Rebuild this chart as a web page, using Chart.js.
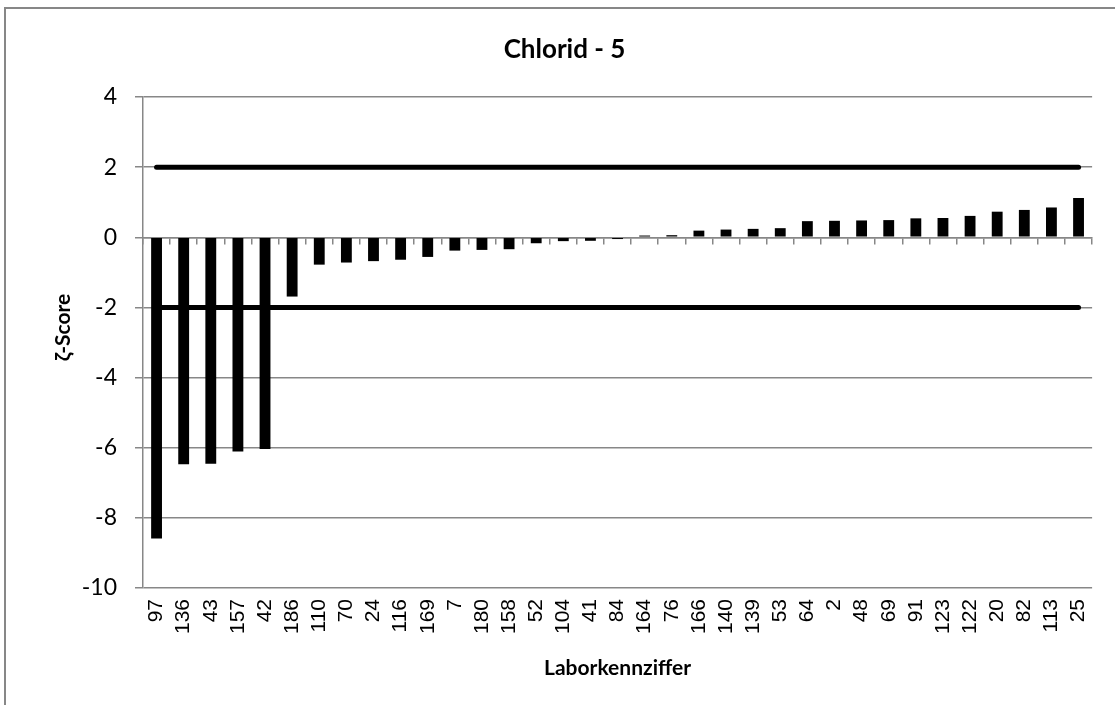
<!DOCTYPE html>
<html>
<head>
<meta charset="utf-8">
<script src="https://cdn.jsdelivr.net/npm/chart.js@4.4.1/dist/chart.umd.min.js"></script>
<style>
    html, body { margin: 0; padding: 0; background: #fff; overflow: hidden; }
    #wrap { position: relative; width: 1115px; height: 705px; }
    #frame {
        position: absolute; left: 4px; top: 7px; width: 1200px; height: 800px;
        border-top: 2px solid #878787; border-left: 2px solid #878787;
        pointer-events: none;
    }
</style>
</head>
<body>
<div id="wrap">
    <canvas id="zetaChart" width="1115" height="705"></canvas>
    <div id="frame"></div>
</div>
<script>
// Laborkennziffern (x categories)
const labs = ['97', '136', '43', '157', '42', '186', '110', '70', '24', '116', '169', '7',
    '180', '158', '52', '104', '41', '84', '164', '76', '166', '140', '139', '53', '64',
    '2', '48', '69', '91', '123', '122', '20', '82', '113', '25'];

// zeta scores
const zetaScores = [-8.59, -6.47, -6.46, -6.11, -6.04, -1.69, -0.78, -0.72, -0.68, -0.64,
    -0.56, -0.38, -0.36, -0.34, -0.17, -0.11, -0.10, -0.05, 0.05, 0.06, 0.19, 0.22, 0.24,
    0.26, 0.46, 0.47, 0.48, 0.49, 0.54, 0.55, 0.61, 0.73, 0.78, 0.85, 1.12];

// limits and axis ticks
const upperLimit = 2;
const lowerLimit = -2;
const yMin = -10;
const yMax = 4;
const yStep = 2;

const grey = '#878787';
const first = labs[0];
const last = labs[labs.length - 1];

const limitLine = value => ({
    type: 'line',
    data: [{ x: first, y: value }, { x: last, y: value }],
    borderColor: '#000',
    borderWidth: 5,
    borderCapStyle: 'round',
    pointRadius: 0,
    order: 0
});

// chart title and y axis title, placed like in the original (Excel frame is wider than the image)
const textPlugin = {
    id: 'texts',
    afterDraw: chart => {
        const { ctx, chartArea, width } = chart;
        ctx.save();
        ctx.fillStyle = '#000';
        ctx.textAlign = 'center';
        ctx.textBaseline = 'middle';

        ctx.font = 'bold 26px Lato, sans-serif';
        ctx.fillText('Chlorid - 5', width / 2 + 7, 50);

        ctx.translate(63, (chartArea.top + chartArea.bottom) / 2 - 15);
        ctx.rotate(-Math.PI / 2);
        ctx.font = 'bold 21px Lato, sans-serif';
        ctx.fillText('ζ-Score', 0, 0);
        ctx.restore();
    }
};

const ctx = document.getElementById('zetaChart').getContext('2d');

new Chart(ctx, {
    type: 'bar',
    data: {
        labels: labs,
        datasets: [
            {
                data: zetaScores,
                backgroundColor: '#000',
                borderWidth: 0,
                barPercentage: 0.4,
                categoryPercentage: 1,
                order: 1
            },
            limitLine(upperLimit),
            limitLine(lowerLimit)
        ]
    },
    options: {
        responsive: false,
        animation: false,
        layout: {
            padding: { left: 0, right: 18, top: 97, bottom: 0 }
        },
        scales: {
            x: {
                offset: true,
                grid: { display: false, drawTicks: false },
                border: { display: false },
                ticks: {
                    minRotation: 90,
                    maxRotation: 90,
                    autoSkip: false,
                    padding: 11,
                    color: '#000',
                    font: { family: '"Liberation Sans", Arial, sans-serif', size: 21 }
                },
                title: {
                    display: true,
                    text: 'Laborkennziffer',
                    color: '#000',
                    font: { family: 'Lato, sans-serif', size: 21, weight: 'bold' },
                    padding: { top: 0, bottom: 24 }
                },
                afterFit: scale => { scale.height = 117; }
            },
            // axis line at zero with tick marks
            x2: {
                type: 'category',
                position: { y: 0 },
                offset: true,
                grid: {
                    offset: true,
                    drawOnChartArea: false,
                    drawTicks: true,
                    tickLength: 6,
                    color: grey,
                    lineWidth: 1.5
                },
                border: { display: true, color: grey, width: 1.5 },
                ticks: { display: false }
            },
            y: {
                min: yMin,
                max: yMax,
                ticks: {
                    stepSize: yStep,
                    padding: 18,
                    color: '#000',
                    font: { family: 'Lato, sans-serif', size: 23 }
                },
                grid: {
                    color: grey,
                    lineWidth: 1.5,
                    tickLength: 8
                },
                border: { display: true, color: grey, width: 1.5 },
                afterFit: scale => { scale.width = 143; }
            }
        },
        plugins: {
            legend: { display: false },
            tooltip: { enabled: false },
            title: { display: false }
        }
    },
    plugins: [textPlugin]
});
</script>
</body>
</html>
